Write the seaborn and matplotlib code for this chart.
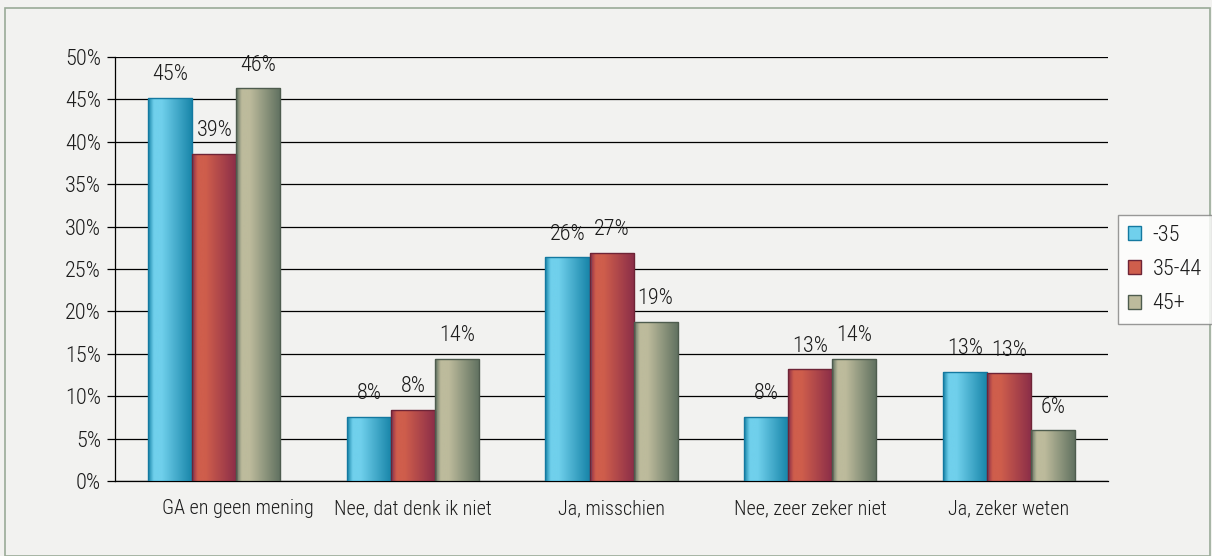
import numpy as np
import pandas as pd
import matplotlib
matplotlib.use('Agg')
import matplotlib.pyplot as plt
import matplotlib.transforms as mtransforms
import seaborn as sns
from matplotlib import font_manager
from matplotlib.colors import LinearSegmentedColormap
from matplotlib.patches import Rectangle, Patch

# data
categories = ['GA en geen mening', 'Nee, dat denk ik niet', 'Ja, misschien',
              'Nee, zeer zeker niet', 'Ja, zeker weten']
groups = ['-35', '35-44', '45+']
val_35 = [45.2, 7.6, 26.4, 7.6, 12.9]
val_35_44 = [38.6, 8.4, 26.9, 13.2, 12.7]
val_45 = [46.3, 14.4, 18.8, 14.4, 6.0]

df = pd.DataFrame({
    'categorie': categories * 3,
    'groep': [groups[0]] * 5 + [groups[1]] * 5 + [groups[2]] * 5,
    'waarde': val_35 + val_35_44 + val_45,
})

# colours: (edge, light, dark)
stijl = {
    '-35': ('#1479a0', '#70d0ec', '#1784a8'),
    '35-44': ('#6e2436', '#cf5e4c', '#8a2d48'),
    '45+': ('#4e5c4e', '#bdbb9c', '#5f705f'),
}

sns.set_theme(style='white')

# look for a narrow font, else condensed DejaVu
fonts = font_manager.fontManager.ttflist
namen = {f.name for f in fonts}
smal = ['Liberation Sans Narrow', 'Roboto Condensed', 'Open Sans Condensed',
        'Noto Sans Condensed', 'Arial Narrow', 'Noto Sans Display Condensed']
gekozen = next((n for n in smal if n in namen), None)
if gekozen is None:
    for f in fonts:
        if f.name in ('Roboto', 'Open Sans', 'Noto Sans') and f.stretch in ('condensed', 'extra-condensed', 'semi-condensed', 300, 400, 200):
            gekozen = f.name
            plt.rcParams['font.stretch'] = f.stretch
            break
if gekozen is not None:
    plt.rcParams['font.family'] = [gekozen, 'DejaVu Sans']
    fs_num, fs_cat = 16, 14.5
else:
    plt.rcParams['font.family'] = ['DejaVu Sans']
    plt.rcParams['font.stretch'] = 'condensed'
    fs_num, fs_cat = 14, 12.5
plt.rcParams['font.weight'] = 'light'
tekst = '#1c1c1c'
bg = '#f2f2f0'

fig = plt.figure(figsize=(12.12, 5.56), dpi=100, facecolor=bg)
ax = fig.add_axes([0.0949, 0.1349, 0.8193, 0.7626])
ax.set_facecolor(bg)

sns.barplot(data=df, x='categorie', y='waarde', hue='groep', order=categories,
            hue_order=groups, width=0.665, palette=[stijl[g][2] for g in groups],
            saturation=1, legend=False, ax=ax, zorder=3)

# gradient fill in each bar
patches = list(ax.patches)
for i, p in enumerate(patches):
    g = groups[i // 5]
    edge, light, dark = stijl[g]
    cmap = LinearSegmentedColormap.from_list(g, [(0, dark), (0.12, light), (0.3, light), (1, dark)])
    x0, w, h = p.get_x(), p.get_width(), p.get_height()
    grad = np.linspace(0, 1, 64).reshape(1, -1)
    im = ax.imshow(grad, cmap=cmap, aspect='auto', extent=(x0, x0 + w, 0, h),
                   zorder=3.5, interpolation='bicubic')
    im.set_clip_path(p)
    p.set_edgecolor(edge)
    p.set_linewidth(1)
    p.set_zorder(4)
    p.set_facecolor('none')
    ax.annotate(f'{round(h):.0f}%', (x0 + w / 2, h), xytext=(0, 9),
                textcoords='offset points', ha='center', va='bottom',
                fontsize=fs_num, color=tekst, zorder=5)
ax.set_xlim(-0.5, 4.5)
ax.set_ylim(0, 50)

ax.set_yticks(np.arange(0, 51, 5))
ax.set_yticklabels([f'{v}%' for v in range(0, 51, 5)], fontsize=fs_num, color=tekst)
ax.yaxis.grid(True, color='black', linewidth=0.9, zorder=0)
ax.set_axisbelow(True)
ax.set_xticks(np.arange(5))
ax.set_xticklabels(categories, fontsize=fs_cat, color=tekst)
ax.set_xticks(np.arange(-0.5, 5, 1), minor=True)
ax.tick_params(axis='x', which='major', length=0, pad=13)
ax.tick_params(axis='x', which='minor', length=8, width=0.9, color='black', direction='out')
ax.tick_params(axis='y', length=6, width=0.9, color='black', direction='out', left=True, pad=4)
ax.set_xlabel('')
ax.set_ylabel('')
for s in ['top', 'right']:
    ax.spines[s].set_visible(False)
for s in ['left', 'bottom']:
    ax.spines[s].set_color('black')
    ax.spines[s].set_linewidth(0.9)

# first category label sits a bit to the right in the original
eerste = ax.get_xticklabels()[0]
eerste.set_transform(eerste.get_transform() + mtransforms.ScaledTranslation(24 / 100, 0, fig.dpi_scale_trans))

handles = [Patch(facecolor=stijl[g][1], edgecolor=stijl[g][0], label=g) for g in groups]
leg = fig.legend(handles=handles, loc='center left', bbox_to_anchor=(1118 / 1212, 0.515),
                 frameon=True, fancybox=False, fontsize=fs_num, handlelength=0.6,
                 handleheight=0.6, handletextpad=0.5, labelspacing=0.6,
                 borderpad=0.45, borderaxespad=0)
leg.get_frame().set_edgecolor('#808080')
leg.get_frame().set_facecolor('white')
leg.get_frame().set_linewidth(1)
for t in leg.get_texts():
    t.set_color(tekst)

fig.patches.append(Rectangle((5 / 1212, 0), 1 - 7 / 1212, 1 - 8 / 556,
                             transform=fig.transFigure, fill=False,
                             edgecolor='#9aab98', linewidth=1.2))

fig.savefig('out.png', dpi=100, facecolor=bg)
